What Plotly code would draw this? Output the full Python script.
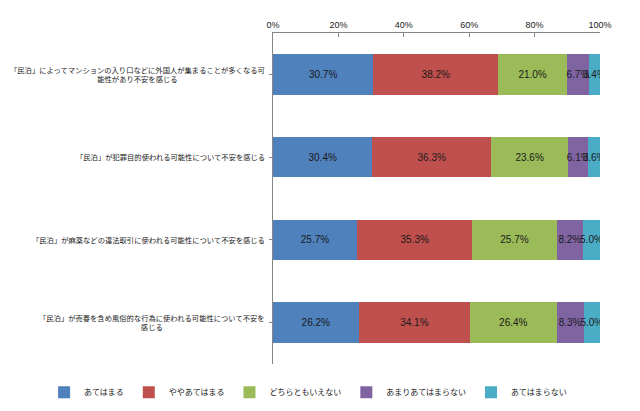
import plotly.graph_objects as go

# questions, top to bottom
questions = [
    "「民泊」によってマンションの入り口などに外国人が集まることが多くなる可<br>能性があり不安を感じる",
    "「民泊」が犯罪目的使われる可能性について不安を感じる",
    "「民泊」が麻薬などの違法取引に使われる可能性について不安を感じる",
    "「民泊」が売春を含め風俗的な行為に使われる可能性について不安を<br>感じる",
]
series_names = ["あてはまる", "ややあてはまる", "どちらともいえない", "あまりあてはまらない", "あてはまらない"]
atehamaru = [30.7, 30.4, 25.7, 26.2]
yaya = [38.2, 36.3, 35.3, 34.1]
dochira = [21.0, 23.6, 25.7, 26.4]
amari = [6.7, 6.1, 8.2, 8.3]
atehamaranai = [3.4, 3.6, 5.0, 5.0]
x_ticks = [0, 20, 40, 60, 80, 100]

colors = ["#4F81BD", "#C0504D", "#9BBB59", "#8064A2", "#4BACC6"]
jp_font = "Noto Sans CJK JP"

fig = go.Figure()
for name, vals, c in zip(series_names, [atehamaru, yaya, dochira, amari, atehamaranai], colors):
    fig.add_trace(go.Bar(
        y=questions, x=vals, name=name, orientation="h",
        marker=dict(color=c, line=dict(width=0)),
        text=[f"{v:.1f}%" for v in vals],
        textposition="inside", insidetextanchor="middle",
        constraintext="none", textangle=0,
        textfont=dict(family="Liberation Sans", size=10, color="#1a1a1a"),
        hoverinfo="skip",
    ))

# left labels: right-aligned block, centred lines (like Excel)
for q in questions:
    fig.add_annotation(
        x=0, xref="paper", y=q, yref="y", text=q, showarrow=False,
        xanchor="right", xshift=-6, align="center",
        font=dict(family=jp_font, size=7.3, color="#1a1a1a"),
    )

# page body has an 8px margin, so the figure sits 8px in from the window corner
# (bottom margin kept roomy so the legend does not push the plot area up)
fig.update_layout(
    width=624, height=411,
    margin=dict(l=265, r=32, t=21, b=51),
    barmode="stack", bargap=0.51,
    plot_bgcolor="white", paper_bgcolor="white",
    showlegend=True,
    # x<0 with left anchor lets the legend use the whole width in one row
    legend=dict(
        orientation="h", xref="paper", yref="paper",
        x=-0.70, xanchor="left", y=-0.085, yanchor="middle",
        font=dict(family=jp_font, size=8, color="#1a1a1a"),
        itemwidth=30, traceorder="normal",
    ),
)
fig.update_xaxes(
    side="top", range=[0, 100], tickvals=x_ticks,
    ticktext=[f"{t}%" for t in x_ticks],
    showgrid=False, zeroline=False,
    showline=True, linecolor="#868686", linewidth=1,
    ticks="inside", ticklen=4, tickcolor="#868686",
    tickfont=dict(family="Liberation Sans", size=9, color="#1a1a1a"),
)
fig.update_yaxes(
    autorange="reversed", showticklabels=False,
    showgrid=False, zeroline=False,
    showline=True, linecolor="#868686", linewidth=1,
    ticks="outside", ticklen=3, tickcolor="#868686",
)

fig.write_html("out.html")
